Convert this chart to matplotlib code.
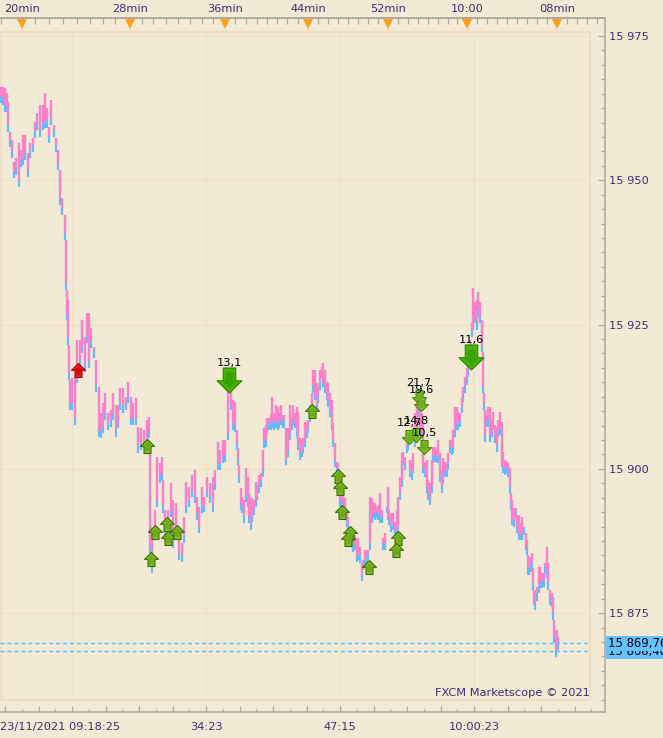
import matplotlib
matplotlib.use('Agg')
import matplotlib.pyplot as plt
from matplotlib.path import Path
from matplotlib.patches import Rectangle
from matplotlib.ticker import FuncFormatter, FixedLocator, NullFormatter

BASE = 15800.0
bar_pos = [1,3,5,7,8,10,12,14,16,19,21,23,25,28,30,33,35,37,40,43,45,47,49,51,54,56,58,60,62,65,66,67,68,69,70,72,75,77,80,82,85,87,89,91,94,96,99,101,103,105,108,111,113,116,118,120,123,126,128,131,133,136,138,141,144,147,149,150,152,155,157,160,162,163,165,168,171,173,176,179,182,184,186,189,192,195,197,199,202,204,207,210,213,215,218,220,223,225,228,231,233,235,237,238,239,241,242,244,246,248,249,251,252,254,256,257,259,261,263,264,266,267,269,271,272,274,276,278,279,281,283,284,286,288,290,292,293,295,297,298,300,302,303,305,307,308,310,312,313,315,317,318,320,322,323,325,327,328,330,332,333,335,337,338,340,342,343,345,347,348,350,352,353,355,357,358,360,362,363,365,367,368,370,372,373,375,377,378,380,382,383,385,387,388,389,391,393,395,397,398,400,402,403,405,407,408,410,412,413,415,417,418,420,422,423,425,427,428,430,432,433,435,437,438,440,442,443,445,447,448,450,452,453,455,457,458,460,462,463,465,467,468,470,472,473,475,477,478,480,482,483,484,485,487,488,490,492,493,495,497,498,500,502,503,505,507,508,510,511,512,514,516,517,519,521,522,524,526,527,528,529,531,532,533,534,535,537,539,540,542,544,545,547,548,550,552,553,554,556,557,558]
ask_high = [166.2,166.2,166.0,165.1,163.6,158.4,157.0,153.2,153.9,156.5,155.2,157.8,157.8,154.7,156.5,157.3,160.1,161.7,163.0,163.0,165.1,162.5,159.2,163.9,159.6,157.3,155.2,151.8,146.9,144.0,139.7,131.0,129.2,121.5,115.4,115.7,115.9,122.3,122.3,125.8,122.8,127.0,127.0,124.4,121.1,118.9,114.2,109.7,111.4,113.1,109.7,110.2,113.1,111.1,111.1,114.0,114.0,112.4,115.0,112.4,111.4,112.2,107.2,107.1,106.7,108.4,109.0,103.8,89.9,92.9,102.0,101.0,102.0,98.1,92.9,92.9,97.5,94.6,94.1,87.6,87.1,91.6,97.7,96.8,98.9,99.8,95.1,93.4,96.8,95.1,98.6,97.5,98.6,99.8,104.6,103.2,105.0,105.0,113.6,113.3,111.9,111.6,106.7,103.6,100.6,96.7,95.1,94.6,100.1,98.6,95.8,94.9,94.9,94.6,97.7,97.2,98.9,99.3,103.2,107.1,107.6,108.8,108.8,109.3,112.4,109.7,111.1,110.7,109.7,111.1,109.3,109.3,107.1,107.1,111.1,108.8,111.1,109.7,110.7,109.8,105.3,105.0,105.3,108.1,107.9,108.4,111.1,113.1,117.1,117.1,114.9,114.2,117.1,117.6,118.3,117.1,115.0,114.9,113.1,111.9,107.9,104.5,101.2,101.0,97.5,96.3,95.1,94.9,92.3,91.6,89.9,88.9,88.2,88.5,88.0,88.0,86.4,83.7,84.2,85.9,85.9,85.9,95.1,94.9,94.2,94.1,93.4,93.7,95.8,92.9,88.0,88.9,93.4,96.8,92.9,92.3,92.3,90.8,92.9,95.1,98.6,102.7,102.9,102.0,104.5,106.4,101.5,101.0,102.7,109.7,111.9,110.7,111.9,109.7,107.9,101.2,101.5,98.1,97.5,101.5,103.8,103.8,103.2,105.0,102.7,99.8,101.9,101.2,101.0,102.7,105.0,105.0,106.7,110.7,110.7,109.8,109.7,112.4,114.2,115.9,117.5,118.3,122.3,125.2,131.3,128.9,129.2,130.6,128.9,125.8,120.2,113.1,110.2,109.3,110.7,110.7,108.4,109.8,107.6,107.2,108.4,109.8,108.1,102.9,101.5,101.2,101.0,100.1,95.8,94.6,93.2,93.2,92.0,92.0,90.6,91.6,89.9,88.9,87.6,85.1,84.7,84.7,85.4,82.8,79.0,79.0,79.5,83.0,83.0,82.0,82.0,83.7,86.4,83.7,79.0,78.5,77.8,73.8,72.1,72.1,70.8]
bid_low = [163.4,163.0,161.8,161.8,158.4,155.8,153.9,150.4,150.9,148.8,152.3,152.6,153.5,150.6,153.9,154.9,157.3,158.7,157.5,158.7,159.1,159.1,156.5,159.6,157.5,154.9,151.8,145.7,144.0,139.7,131.0,125.8,121.5,115.4,110.2,110.2,107.6,114.9,117.6,120.1,116.8,121.8,117.5,120.9,119.2,113.3,105.5,105.3,106.2,108.4,106.7,107.2,108.4,105.5,107.1,110.2,109.7,110.2,111.4,107.6,107.6,107.6,102.7,103.2,103.6,103.2,105.3,85.4,81.9,88.9,93.4,97.5,98.1,92.3,87.6,89.9,91.6,86.3,88.9,84.2,83.8,87.1,92.3,93.4,95.1,94.1,91.1,88.9,92.3,92.5,95.1,94.1,92.5,96.3,99.8,99.8,101.0,101.2,105.0,110.2,106.7,106.4,103.3,100.6,97.5,92.9,92.3,90.6,94.2,93.4,90.6,89.4,90.8,92.0,93.4,94.6,95.8,96.8,98.6,103.6,103.8,106.2,106.7,106.7,107.1,106.7,107.1,106.7,107.1,107.6,107.1,107.1,100.6,102.0,105.0,106.7,107.6,107.1,105.5,103.2,101.5,102.0,102.7,103.8,105.3,106.2,108.1,109.0,113.1,111.9,109.8,111.4,113.6,115.7,114.2,113.1,111.9,110.7,109.0,106.7,103.8,100.3,99.3,98.6,93.4,93.4,92.9,91.6,89.9,88.9,88.2,86.4,85.6,85.9,83.8,84.2,83.7,80.5,82.5,83.0,83.7,84.2,85.9,90.6,91.5,91.1,91.5,91.1,90.6,90.6,85.9,85.9,92.3,91.1,90.3,89.0,89.4,88.0,88.2,88.9,94.6,96.8,100.6,99.8,102.7,103.2,98.6,98.1,99.3,103.8,104.5,109.0,105.5,105.5,99.3,98.6,95.8,94.6,93.7,95.8,101.0,101.2,101.0,101.0,97.7,95.8,97.5,98.6,98.6,99.8,102.7,102.4,102.7,105.5,106.7,106.7,107.2,109.7,111.6,113.1,114.5,115.9,118.8,122.8,124.0,125.2,124.0,126.3,125.2,120.2,113.1,110.2,104.6,107.2,107.2,104.6,105.5,106.7,104.5,102.9,105.5,105.8,100.3,99.3,98.9,99.3,98.6,95.8,92.9,90.2,89.9,91.5,88.9,87.6,87.6,87.6,88.5,85.9,85.1,81.6,81.6,82.1,82.8,79.0,76.4,75.5,77.2,78.5,79.3,79.3,79.5,82.0,81.1,79.0,76.4,76.0,73.8,69.8,67.4,69.8,68.6]
SPREAD = 1.2

up_x = [147,155,167,168,177,151,311.5,338,339.5,341.5,350,348,369,398,395.5]
up_p = [103.9,89.1,90.5,88.1,89.1,84.4,110.0,98.7,96.7,92.5,88.9,87.8,83.0,88.0,85.9]
red_x = [78]
red_p = [117.1]
big_x = [229,471]
big_p = [115.4,119.4]
big_lab = ['13,1','11,6']
small_x = [419,421,409,416,424]
small_p = [112.5,111.3,105.6,105.9,103.8]
small_lab = ['21,7','19,6','12,7','14,8','10,5']
top_pos = [22.3,130.3,225,308,388,467,557]
top_lab = ['20min','28min','36min','44min','52min','10:00','08min']
bot_pos = [72,206,340,474]
bot_lab = ['09:18:25','34:23','47:15','10:00:23']
price1 = 15869.76
price2 = 15868.40

BG = '#F3EAD6'; GRID = '#F0E1C6'; FRAME = '#EEDDC3'; AX = '#AEA898'; TXT = '#3B3170'
PINK = '#FF80C6'; BLUE = '#66B8FF'; PX = 0.72
FS = 8.2

plt.rcParams['font.family'] = 'DejaVu Sans'
fig = plt.figure(figsize=(6.63, 7.38), dpi=100, facecolor=BG)
ax = fig.add_axes([0, 1-712/738, 605/663, (712-18)/738], facecolor=BG)
KPP = 25/144.3
def py(y):
    return 15975 - (y-36)*KPP
ax.set_xlim(0, 605)
ax.set_ylim(py(712), py(18))

ax.spines['left'].set_visible(False)
for s in ['right','top','bottom']:
    ax.spines[s].set_color(AX); ax.spines[s].set_linewidth(1.1)

# frame + grid
ax.add_patch(Rectangle((0, py(700)), 590, py(32)-py(700), fill=False, ec=FRAME, lw=1.6, zorder=1))
ax.hlines([15975,15950,15925,15900,15875], 0, 590, color=GRID, lw=1.0, zorder=1)
ax.vlines([1]+bot_pos, py(700), py(33), color=GRID, lw=1.0, zorder=1)

# y axis
ax.yaxis.tick_right()
ax.yaxis.set_major_locator(FixedLocator([15875,15900,15925,15950,15975]))
ax.yaxis.set_minor_locator(FixedLocator([15860+2.5*i for i in range(47) if (15860+2.5*i) % 25]))
ax.yaxis.set_major_formatter(FuncFormatter(lambda v, p: f'{int(v)//1000} {int(v)%1000:03d}'))
ax.tick_params(axis='y', which='major', direction='in', length=5.2, width=0.9, color=AX, labelsize=FS, labelcolor=TXT, pad=3)
ax.tick_params(axis='y', which='minor', direction='in', length=2.8, width=0.9, color=AX)

# bottom axis
bot_major = [72+33.5*i for i in range(-2, 16)]
bot_minor = [72+16.75+33.5*i for i in range(-3, 16)]
ax.xaxis.set_major_locator(FixedLocator(bot_major))
ax.xaxis.set_minor_locator(FixedLocator(bot_minor))
bot_map = dict(zip(bot_pos, bot_lab))
ax.xaxis.set_major_formatter(FuncFormatter(lambda v, p: '' if v == 72 else bot_map.get(v, '')))
ax.tick_params(axis='x', which='major', direction='in', length=4.3, width=0.9, color=AX, labelsize=FS, labelcolor=TXT, pad=7)
ax.tick_params(axis='x', which='minor', direction='in', length=2.2, width=0.9, color=AX)
ax.annotate('23/11/2021 ' + bot_lab[0], xy=(0, 0), xycoords='axes fraction', xytext=(0, -15),
            textcoords='offset pixels', ha='left', va='center', fontsize=FS, color=TXT, annotation_clip=False)

# top axis
sec = ax.secondary_xaxis('top')
sec.spines['top'].set_color(AX); sec.spines['top'].set_linewidth(1.1)
sec.set_xticks(top_pos, top_lab)
sec.set_xticks([1,35,49,63,77,90,103,115,142,153,166,178,190,202,213,235,246,257,267,277,287,298,318,328,338,348,358,368,378,398,408,418,428,438,448,457,477,487,497,507,517,527,537,547,567,577,587,597], minor=True)
sec.xaxis.set_minor_formatter(NullFormatter())
sec.tick_params(axis='x', which='major', direction='in', length=0, labelsize=FS, labelcolor=TXT, pad=3)
sec.tick_params(axis='x', which='minor', direction='in', length=4.6, width=0.9, color=AX)
ax.plot(top_pos, [py(23.5)]*len(top_pos), ls='none', marker='v', ms=7.0, mfc='#FF9F1C', mec='#FF9F1C', mew=0, zorder=5, clip_on=False)
ax.vlines(top_pos, py(34), py(28), color='#EED9B4', lw=0.8, zorder=4)

# price bars
ax.vlines(bar_pos, [BASE+v for v in bid_low], [BASE+h for h in ask_high], color=BLUE, lw=2.2*PX, zorder=3)
pink_lo = [BASE+min(l+SPREAD, h) for l, h in zip(bid_low, ask_high)]
ax.vlines(bar_pos, pink_lo, [BASE+h for h in ask_high], color=PINK, lw=2.2*PX, zorder=3.1)

# current price lines
ax.hlines([price1, price2], 0, 590, color='#4FC3FF', lw=1.0, linestyles=(0, (3, 2)), zorder=3.5)

# arrows
up = Path([(0,1),(1,0.02),(0.5,0.02),(0.5,-1),(-0.5,-1),(-0.5,0.02),(-1,0.02),(0,1)], closed=True)
down = Path([(0,-1),(1,-0.02),(0.5,-0.02),(0.5,1),(-0.5,1),(-0.5,-0.02),(-1,-0.02),(0,-1)], closed=True)
def arrow(xs, ps, path, px, face, edge, light, zo=6):
    ys = [BASE+p for p in ps]
    ax.plot(xs, ys, ls='none', marker=path, ms=px*PX, mfc=face, mec=edge, mew=0.8, zorder=zo, clip_on=False)
    ax.plot(xs, ys, ls='none', marker=path, ms=px*PX*0.62, mfc=light, mew=0, zorder=zo+0.1, clip_on=False)
arrow(up_x, up_p, up, 14, '#84B82A', '#2E7400', '#6FA818')
arrow(red_x, red_p, up, 14, '#E8202A', '#B00010', '#D80012')
arrow(big_x, big_p, down, 25, '#4CB006', '#1F8800', '#36A400')
arrow(small_x, small_p, down, 14, '#84BC2C', '#3F8A00', '#6FAE1C')

# labels
for x, p, t in zip(big_x, big_p, big_lab):
    ax.annotate(t, xy=(x, BASE+p), xytext=(0, 17), textcoords='offset pixels', ha='center', va='center',
                fontsize=FS, color='black', zorder=8)
for x, p, t in zip(small_x, small_p, small_lab):
    ax.annotate(t, xy=(x, BASE+p), xytext=(0, 13.5), textcoords='offset pixels', ha='center', va='center',
                fontsize=FS, color='black', zorder=8)

ax.text(590, py(693), 'FXCM Marketscope © 2021', ha='right', va='center', fontsize=FS, color=TXT, zorder=7)

# price tags
ax.add_patch(Rectangle((606, py(659)), 60, py(636)-py(659), fc='#66C2FF', ec='none', clip_on=False, zorder=9))
fmt = lambda v: f'{int(v)//1000} {int(v)%1000:03d},{int(round((v-int(v))*100)):02d}'
ax.text(608, price2, fmt(price2), ha='left', va='center', fontsize=8.4, color='black', clip_on=False, zorder=9.1)
ax.add_patch(Rectangle((606, py(650.5)), 60, py(636)-py(650.5), fc='#66C2FF', ec='none', clip_on=False, zorder=9.2))
ax.text(608, price1, fmt(price1), ha='left', va='center', fontsize=8.4, color='black', clip_on=False, zorder=9.3)

fig.savefig('out.png', dpi=100, facecolor=BG)
